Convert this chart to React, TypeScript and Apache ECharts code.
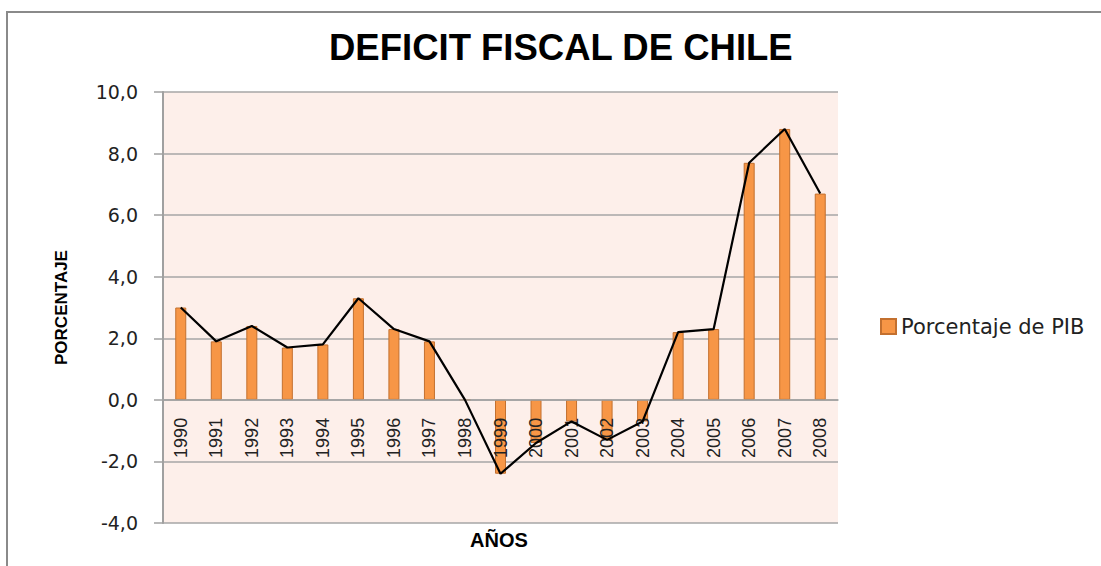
import React, { useEffect, useRef } from "react";
import * as echarts from "echarts";

const years = ["1990","1991","1992","1993","1994","1995","1996","1997","1998","1999","2000","2001","2002","2003","2004","2005","2006","2007","2008"];
const pctPIB = [3.0, 1.9, 2.4, 1.7, 1.8, 3.3, 2.3, 1.9, 0.0, -2.4, -1.4, -0.7, -1.3, -0.7, 2.2, 2.3, 7.7, 8.8, 6.7];
const yTicks = { min: -4, max: 10, interval: 2 };

export default function App() {
  const ref = useRef<HTMLDivElement>(null);
  useEffect(() => {
    if (!ref.current) return;
    const chart = echarts.init(ref.current, null, { renderer: "svg" });
    const plotTop = 92;
    const plotBottom = 523;
    const zeroOffset = ((plotBottom - plotTop) * (0 - yTicks.min)) / (yTicks.max - yTicks.min);
    chart.setOption({
      animation: false,
      backgroundColor: "#ffffff",
      title: {
        text: "DEFICIT FISCAL DE CHILE",
        left: 329,
        top: 29,
        padding: 0,
        textStyle: { fontFamily: "'Liberation Sans', sans-serif", fontWeight: "bold", fontSize: 36.5, color: "#000" },
      },
      grid: { left: 163, right: 263, top: plotTop, bottom: 566 - plotBottom, show: true, backgroundColor: "#FDEFEA", borderWidth: 0, containLabel: false, outerBoundsMode: "none" },
      legend: {
        data: ["Porcentaje de PIB"],
        left: 875,
        top: 311,
        icon: "rect",
        itemWidth: 15,
        itemHeight: 15,
        itemGap: 8,
        textStyle: { fontFamily: "'DejaVu Sans', sans-serif", fontSize: 21, color: "#222" },
      },
      xAxis: {
        type: "category",
        data: years,
        position: "bottom",
        offset: -zeroOffset,
        z: 3,
        axisLine: { onZero: false, lineStyle: { color: "#a0a0a0", width: 1.5 } },
        axisTick: { show: false },
        axisLabel: { rotate: 90, margin: 18, fontFamily: "'Liberation Sans', sans-serif", fontSize: 18, color: "#222" },
      },
      yAxis: {
        type: "value",
        min: yTicks.min,
        max: yTicks.max,
        interval: yTicks.interval,
        name: "PORCENTAJE",
        nameLocation: "middle",
        nameGap: 93,
        nameTextStyle: { fontFamily: "'Liberation Sans', sans-serif", fontWeight: "bold", fontSize: 17, color: "#000" },
        axisLine: { show: true, lineStyle: { color: "#a0a0a0", width: 2 } },
        axisTick: { show: true, inside: false, length: 9, lineStyle: { color: "#a0a0a0", width: 1.5 } },
        axisLabel: {
          margin: 25,
          fontFamily: "'DejaVu Sans', sans-serif",
          fontSize: 19,
          color: "#222",
          formatter: (v: number) => v.toFixed(1).replace(".", ","),
        },
        splitLine: { lineStyle: { color: "#a6a6a6", width: 1.5 } },
      },
      graphic: [
        { type: "rect", shape: { x: 7, y: 12, width: 1200, height: 700 }, style: { fill: "none", stroke: "#8a8a8a", lineWidth: 2 }, silent: true },
        { type: "text", left: 470, top: 530, style: { text: "AÑOS", fontFamily: "'Liberation Sans', sans-serif", fontWeight: "bold", fontSize: 20, fill: "#000" } },
      ],
      series: [
        {
          name: "Porcentaje de PIB",
          type: "bar",
          data: pctPIB,
          barWidth: 11,
          z: 2,
          itemStyle: { color: "#F79646", borderColor: "#C3702F", borderWidth: 1 },
        },
        {
          name: "linea",
          type: "line",
          data: pctPIB,
          symbol: "none",
          z: 5,
          lineStyle: { color: "#000", width: 2.2 },
        },
      ],
    });
    return () => chart.dispose();
  }, []);
  return <div ref={ref} style={{ position: "fixed", left: 0, top: 0, width: 1101, height: 566 }} />;
}
